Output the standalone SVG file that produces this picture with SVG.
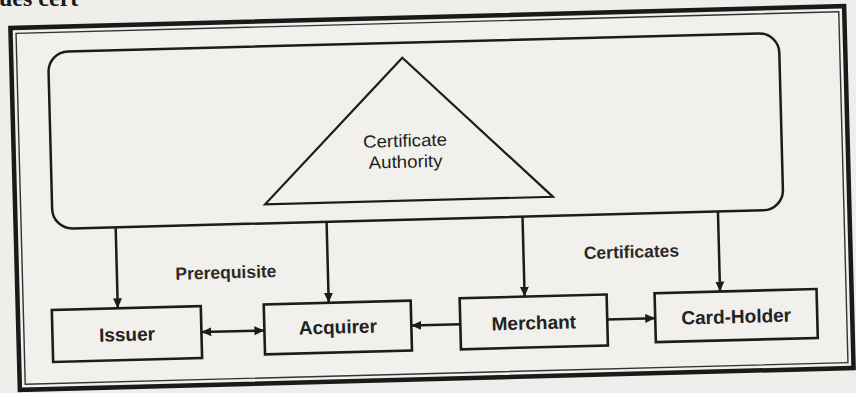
<svg xmlns="http://www.w3.org/2000/svg" width="856" height="393" viewBox="0 0 856 393">
  <style>
    .ln { fill: none; stroke: #1c1c1c; stroke-width: 2.5; }
    .box { fill: none; stroke: #1c1c1c; stroke-width: 2.6; }
    .lbl { font-family: "Liberation Sans", Arial, sans-serif; font-weight: bold; font-size: 19px; fill: #222; text-anchor: middle; }
    .note { font-family: "Liberation Sans", Arial, sans-serif; font-weight: bold; font-size: 17.5px; fill: #2a2a2a; text-anchor: middle; }
    .ca { font-family: "Liberation Sans", Arial, sans-serif; font-size: 17.5px; fill: #1e1e1e; text-anchor: middle; }
  </style>
  <defs>
    <marker id="ah" viewBox="0 0 10 10" refX="10" refY="5" markerWidth="10" markerHeight="10" markerUnits="userSpaceOnUse" orient="auto-start-reverse">
      <path d="M0,0.5 L10,5 L0,9.5 z" fill="#1c1c1c"/>
    </marker>
  </defs>

  <!-- paper -->
  <rect x="0" y="0" width="856" height="393" fill="#efeeea"/>

  <!-- running text fragment at the top edge of the page -->
  <text x="-1" y="6" font-family="'Liberation Serif', 'Times New Roman', serif" font-weight="bold" font-size="24px" fill="#1a1a1a">ues cert</text>

  <g transform="rotate(-1.5 432 198)">
    <!-- double-ruled figure frame -->
    <g id="frame">
      <rect x="15" y="17" width="834" height="362" fill="#f1f0ec" stroke="#1a1a1a" stroke-width="4.5"/>
      <rect x="20.5" y="22.5" width="823" height="351" fill="none" stroke="#333" stroke-width="1.4"/>
    </g>

    <!-- certificate authority domain -->
    <g id="ca-domain">
      <rect x="52" y="42" width="731" height="177" rx="20" ry="20" class="ln"/>
      <polygon points="406,57 265,200 553,200" fill="none" stroke="#1c1c1c" stroke-width="2.2" stroke-linejoin="miter"/>
      <text class="ca" x="406.5" y="146" textLength="84" lengthAdjust="spacingAndGlyphs">Certificate</text>
      <text class="ca" x="406.5" y="167" textLength="74" lengthAdjust="spacingAndGlyphs">Authority</text>
    </g>

    <g id="issuer">
      <rect class="box" x="49" y="300" width="149" height="52"/>
      <text class="lbl" x="123.5" y="333">Issuer</text>
    </g>

    <g id="acquirer">
      <rect class="box" x="261" y="300" width="147" height="50"/>
      <text class="lbl" x="334.5" y="331">Acquirer</text>
    </g>

    <g id="merchant">
      <rect class="box" x="457" y="299" width="147" height="51"/>
      <text class="lbl" x="530.5" y="332">Merchant</text>
    </g>

    <g id="card-holder">
      <rect class="box" x="652" y="299" width="162" height="49"/>
      <text class="lbl" x="733" y="331">Card-Holder</text>
    </g>

    <g id="connectors">
      <line class="ln" x1="115" y1="219" x2="115" y2="300" marker-end="url(#ah)"/>
      <line class="ln" x1="326" y1="219" x2="326" y2="300" marker-end="url(#ah)"/>
      <line class="ln" x1="522" y1="219" x2="522" y2="299" marker-end="url(#ah)"/>
      <line class="ln" x1="717.5" y1="219" x2="717.5" y2="299" marker-end="url(#ah)"/>
      <line class="ln" x1="198" y1="326" x2="261" y2="326" marker-start="url(#ah)" marker-end="url(#ah)"/>
      <line class="ln" x1="457" y1="325" x2="408" y2="325" marker-end="url(#ah)"/>
      <line class="ln" x1="604" y1="324" x2="652" y2="324" marker-end="url(#ah)"/>
    </g>

    <g id="labels">
      <text class="note" x="224" y="273">Prerequisite</text>
      <text class="note" x="630" y="263">Certificates</text>
    </g>
  </g>
</svg>
